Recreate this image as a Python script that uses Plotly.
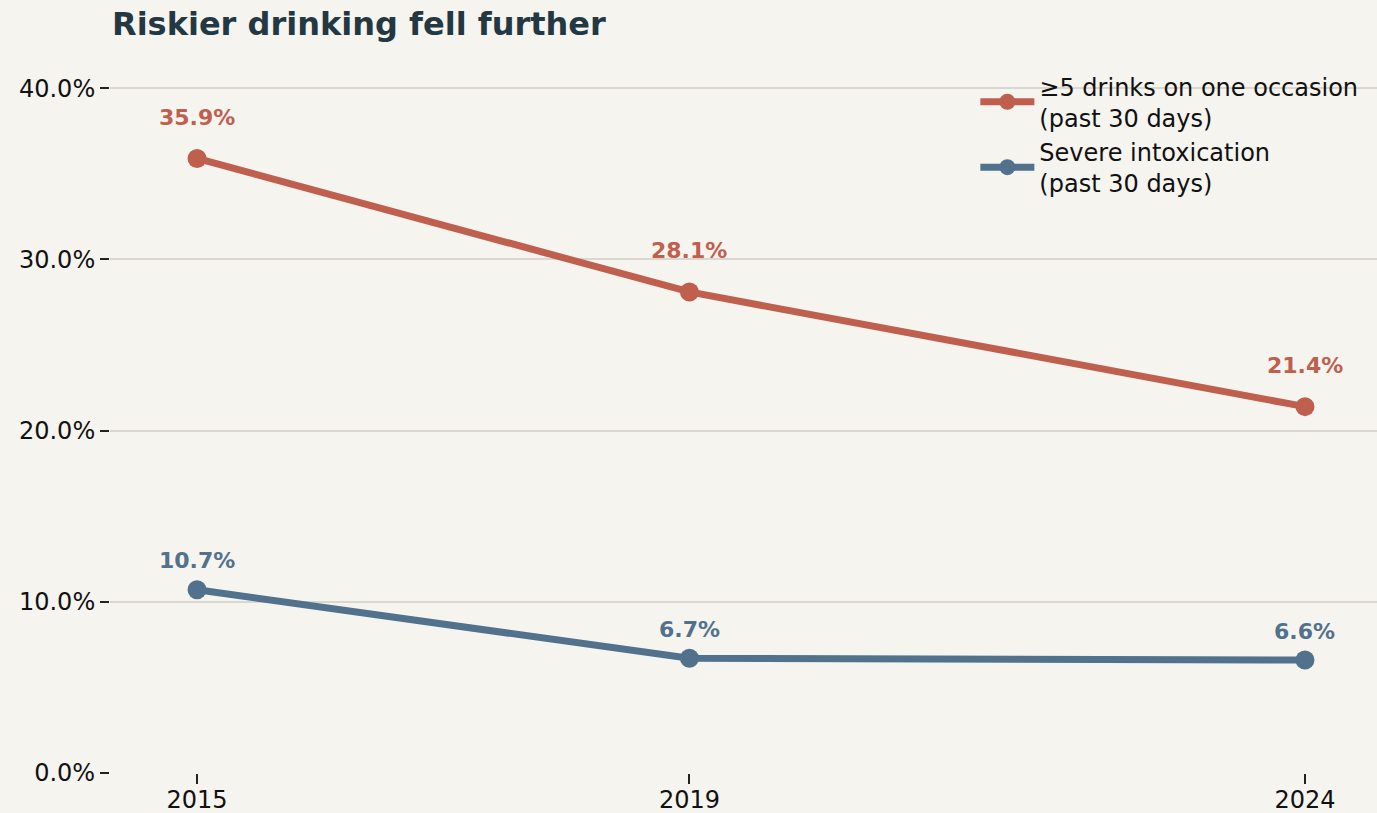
import plotly.graph_objects as go

years = [2015, 2019, 2024]
binge = [35.9, 28.1, 21.4]
severe = [10.7, 6.7, 6.6]
series_names = ['≥5 drinks on one occasion<br>(past 30 days)',
                'Severe intoxication<br>(past 30 days)']
y_ticks = [0, 10, 20, 30, 40]

red = '#bf5f4e'
blue = '#51718c'
bg = '#f6f4ef'
font = 'DejaVu Sans'

fig = go.Figure()
for vals, name, col, shift in [(binge, series_names[0], red, 41),
                               (severe, series_names[1], blue, 29)]:
    fig.add_trace(go.Scatter(
        x=years, y=vals, name=name, mode='lines+markers',
        line=dict(color=col, width=7),
        marker=dict(size=19, color=col),
        cliponaxis=False,
    ))
    for x, v in zip(years, vals):
        fig.add_annotation(x=x, y=v, text='<b>{:.1f}%</b>'.format(v),
                           showarrow=False, yshift=shift, yanchor='middle',
                           font=dict(family=font, size=22, color=col))

fig.update_xaxes(
    range=[2014.293, 2024.585],
    tickmode='array', tickvals=years, ticktext=[str(y) for y in years],
    showgrid=False, zeroline=False, showline=False, automargin=False,
    ticks='outside', ticklen=10, tickwidth=1.5, tickcolor='#222',
    ticklabelstandoff=-5,
    tickfont=dict(family=font, size=24, color='#111'),
)
fig.update_yaxes(
    range=[0, 42],
    tickmode='array', tickvals=y_ticks,
    ticktext=['{:.1f}%'.format(v) for v in y_ticks],
    showgrid=True, gridcolor='#dad7d0', gridwidth=1.5,
    zeroline=False, showline=False, automargin=False,
    ticks='outside', ticklen=9, tickwidth=1.5, tickcolor='#222',
    tickfont=dict(family=font, size=24, color='#111'),
)

fig.update_layout(
    width=1377, height=813,
    paper_bgcolor=bg, plot_bgcolor=bg,
    margin=dict(l=110, r=0, t=54, b=40),
    title=dict(text='<b>Riskier drinking fell further</b>',
               x=112 / 1377, xanchor='left', xref='container',
               y=1 - 24 / 813, yanchor='middle', yref='container',
               font=dict(family=font, size=32, color='#233842')),
    legend=dict(x=0.683, xanchor='left', y=0.986, yanchor='top',
                bgcolor='rgba(0,0,0,0)', itemwidth=54,
                font=dict(family=font, size=24, color='#111')),
    font=dict(family=font),
)

# drop the browser's default body margin so the figure sits at 0,0
fig.write_html('out.html', config={'displayModeBar': False},
               post_script="document.body.style.margin='0';")
